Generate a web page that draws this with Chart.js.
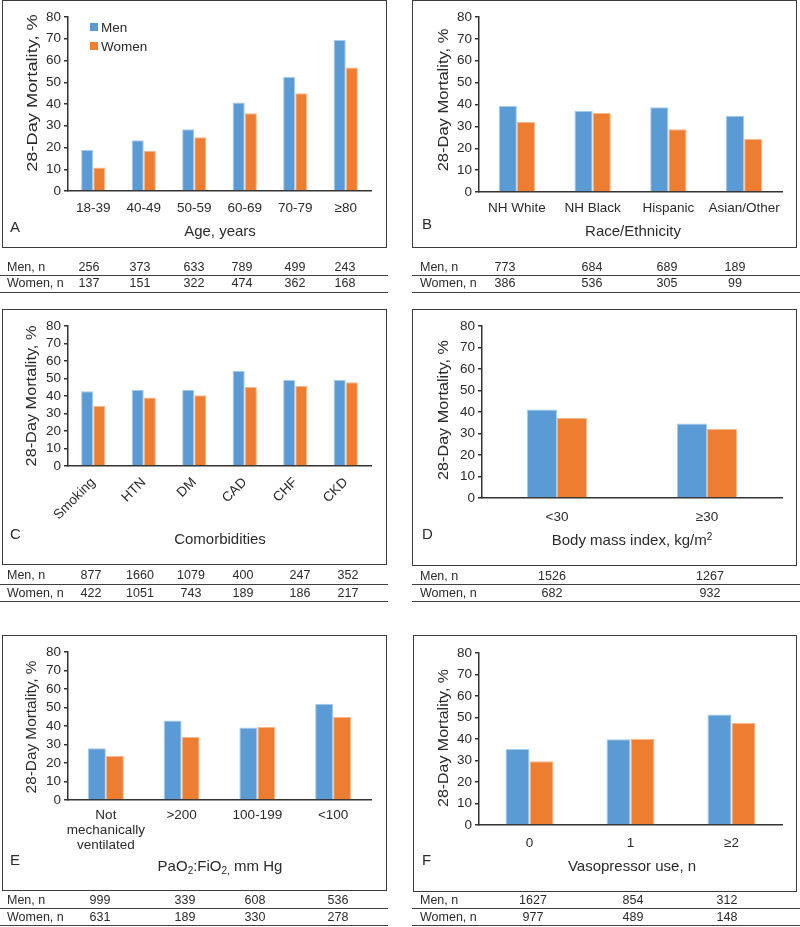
<!DOCTYPE html>
<html>
<head>
<meta charset="utf-8">
<title>28-Day Mortality by Sex</title>
<script src="https://cdn.jsdelivr.net/npm/chart.js@4.4.1/dist/chart.umd.min.js"></script>
<style>
  body { margin: 0; background: #fff; font-family: "Liberation Sans", Arial, sans-serif; color: #2b2b2b; }
  #page { position: relative; width: 800px; height: 927px; overflow: hidden; }
  .box { position: absolute; border: 1.5px solid #3c3c3c; box-sizing: border-box; }
  canvas.plot { position: absolute; }
  .txt { position: absolute; white-space: nowrap; transform: translate(-50%, -50%); }
  .ttl { font-size: 15px; }
  .letter { position: absolute; font-size: 15px; transform: translateY(-50%); }
  .rule { position: absolute; height: 0; border-top: 1.5px solid #404040; }
  .cell { font-size: 12.5px; }
  .rowlab { position: absolute; font-size: 12.5px; white-space: nowrap; transform: translateY(-50%); }
  .swatch { position: absolute; width: 8px; height: 8px; }
  .legtxt { position: absolute; font-size: 13.5px; transform: translateY(-50%); }
  sub { font-size: 10px; vertical-align: -3px; line-height: 0; }
  sup { font-size: 10px; vertical-align: 5px; line-height: 0; }
</style>
</head>
<body>
<div id="page"></div>
<script>
/* ---------- data ---------- */
const yTicks = [0, 10, 20, 30, 40, 50, 60, 70, 80];

const ageLabels  = ['18-39', '40-49', '50-59', '60-69', '70-79', '≥80'];
const ageMen     = [18.9, 23.3, 28.4, 40.7, 52.5, 69.4];
const ageWomen   = [10.8, 18.4, 24.7, 35.8, 44.9, 56.8];
const ageMenN    = [256, 373, 633, 789, 499, 243];
const ageWomenN  = [137, 151, 322, 474, 362, 168];

const raceLabels = ['NH White', 'NH Black', 'Hispanic', 'Asian/Other'];
const raceMen    = [39.3, 37.2, 38.8, 34.9];
const raceWomen  = [32.0, 36.1, 28.7, 24.2];
const raceMenN   = [773, 684, 689, 189];
const raceWomenN = [386, 536, 305, 99];

const comLabels  = ['Smoking', 'HTN', 'DM', 'CAD', 'CHF', 'CKD'];
const comMen     = [42.7, 43.6, 43.6, 54.3, 49.1, 49.3];
const comWomen   = [34.5, 39.2, 40.4, 45.1, 45.9, 47.8];
const comMenN    = [877, 1660, 1079, 400, 247, 352];
const comWomenN  = [422, 1051, 743, 189, 186, 217];

const bmiLabels  = ['<30', '≥30'];
const bmiMen     = [41.2, 34.7];
const bmiWomen   = [37.2, 32.1];
const bmiMenN    = [1526, 1267];
const bmiWomenN  = [682, 932];

const pfLabels   = [['Not', 'mechanically', 'ventilated'], '>200', '100-199', '<100'];
const pfMen      = [28.0, 43.0, 39.2, 52.0];
const pfWomen    = [23.8, 34.1, 39.5, 44.8];
const pfMenN     = [999, 339, 608, 536];
const pfWomenN   = [631, 189, 330, 278];

const vasoLabels = ['0', '1', '≥2'];
const vasoMen    = [35.4, 39.9, 51.4];
const vasoWomen  = [29.6, 40.1, 47.5];
const vasoMenN   = [1627, 854, 312];
const vasoWomenN = [977, 489, 148];

/* ---------- style ---------- */
const MEN_COLOR   = '#5B9BD5';
const MEN_EDGE    = '#A9CBEA';
const WOMEN_COLOR = '#ED7D31';
const WOMEN_EDGE  = '#F5B98F';
const AXIS_COLOR  = '#333333';
const TEXT_COLOR  = '#2b2b2b';
const FONT        = '"Liberation Sans", Arial, sans-serif';

/* ---------- panels (layout only) ---------- */
const panels = [
  { letter: 'A', labels: ageLabels, men: ageMen, women: ageWomen, nMen: ageMenN, nWomen: ageWomenN,
    box: { x: 2, y: 0, w: 385, h: 248 }, area: { l: 68, t: 17, r: 371, b: 191 },
    cat: 0.48, xPad: 10, rot: 0,
    xTitle: 'Age, years', xTitleAt: [220, 230], yTitleAt: [31, 92.5, 158], letterAt: [10, 226],
    table: { x0: 0, x1: 388, labX: 7, menY: 267, womenY: 283, rule1: 275, rule2: 292,
             cols: [89, 140, 194, 242, 295, 345] }, legend: true },
  { letter: 'B', labels: raceLabels, men: raceMen, women: raceWomen, nMen: raceMenN, nWomen: raceWomenN,
    box: { x: 412, y: 0, w: 385, h: 248 }, area: { l: 479, t: 17, r: 782, b: 192 },
    cat: 0.48, xPad: 9, rot: 0,
    xTitle: 'Race/Ethnicity', xTitleAt: [633, 230], yTitleAt: [442, 100, 143], letterAt: [422, 223],
    table: { x0: 412, x1: 800, labX: 420, menY: 267, womenY: 283, rule1: 275, rule2: 292,
             cols: [505, 592, 667, 735] } },
  { letter: 'C', labels: comLabels, men: comMen, women: comWomen, nMen: comMenN, nWomen: comWomenN,
    box: { x: 2, y: 309, w: 385, h: 256 }, area: { l: 68, t: 326, r: 371, b: 466 },
    cat: 0.48, xPad: 9, rot: 45,
    xTitle: 'Comorbidities', xTitleAt: [220, 538], yTitleAt: [29.5, 395.5, 141], letterAt: [10, 533],
    table: { x0: 0, x1: 388, labX: 7, menY: 575, womenY: 593, rule1: 584, rule2: 601,
             cols: [91, 140, 191, 243, 300, 348] } },
  { letter: 'D', labels: bmiLabels, men: bmiMen, women: bmiWomen, nMen: bmiMenN, nWomen: bmiWomenN,
    box: { x: 412, y: 309, w: 385, h: 257 }, area: { l: 482, t: 326, r: 782, b: 498 },
    cat: 0.4, xPad: 12, rot: 0,
    xTitle: 'Body mass index, kg/m<sup>2</sup>', xTitleAt: [632, 539], yTitleAt: [442, 410, 140], letterAt: [422, 533],
    table: { x0: 412, x1: 800, labX: 420, menY: 576, womenY: 593, rule1: 584, rule2: 601,
             cols: [552, 710] } },
  { letter: 'E', labels: pfLabels, men: pfMen, women: pfWomen, nMen: pfMenN, nWomen: pfWomenN,
    box: { x: 2, y: 635, w: 385, h: 256 }, area: { l: 68, t: 652, r: 371, b: 800 },
    cat: 0.475, xPad: 8, rot: 0,
    xTitle: 'PaO<sub>2</sub>:FiO<sub>2,</sub> mm Hg', xTitleAt: [220, 865], yTitleAt: [29.5, 727, 133], letterAt: [10, 859],
    table: { x0: 0, x1: 388, labX: 7, menY: 900, womenY: 917, rule1: 908, rule2: 925,
             cols: [100, 185, 255, 338] } },
  { letter: 'F', labels: vasoLabels, men: vasoMen, women: vasoWomen, nMen: vasoMenN, nWomen: vasoWomenN,
    box: { x: 413, y: 635, w: 384, h: 257 }, area: { l: 479, t: 653, r: 782, b: 825 },
    cat: 0.475, xPad: 11, rot: 0,
    xTitle: 'Vasopressor use, n', xTitleAt: [632, 865], yTitleAt: [442, 738, 138], letterAt: [422, 859],
    table: { x0: 412, x1: 800, labX: 420, menY: 900, womenY: 917, rule1: 908, rule2: 925,
             cols: [533, 633, 727] } }
];

const page = document.getElementById('page');

function addEl(cls, html, css) {
  const el = document.createElement('div');
  el.className = cls;
  el.innerHTML = html;
  Object.assign(el.style, css);
  page.appendChild(el);
  return el;
}

function px(v) { return v + 'px'; }

function buildPanel(p) {
  addEl('box', '', { left: px(p.box.x), top: px(p.box.y), width: px(p.box.w), height: px(p.box.h) });

  const cv = document.createElement('canvas');
  cv.className = 'plot';
  cv.width = p.box.w;
  cv.height = p.box.h;
  Object.assign(cv.style, { left: px(p.box.x), top: px(p.box.y), width: px(p.box.w), height: px(p.box.h) });
  page.appendChild(cv);

  new Chart(cv.getContext('2d'), {
    type: 'bar',
    data: {
      labels: p.labels,
      datasets: [
        { label: 'Men', data: p.men, backgroundColor: MEN_COLOR, borderColor: MEN_EDGE,
          borderWidth: { top: 1, left: 1, right: 1, bottom: 0 },
          categoryPercentage: p.cat, barPercentage: 1 },
        { label: 'Women', data: p.women, backgroundColor: WOMEN_COLOR, borderColor: WOMEN_EDGE,
          borderWidth: { top: 1, left: 1, right: 1, bottom: 0 },
          categoryPercentage: p.cat, barPercentage: 1 }
      ]
    },
    options: {
      responsive: false,
      animation: false,
      layout: { padding: { top: p.area.t - p.box.y, right: p.box.x + p.box.w - p.area.r, bottom: 0, left: 0 } },
      plugins: { legend: { display: false }, tooltip: { enabled: false } },
      scales: {
        x: {
          grid: { display: false, drawTicks: false },
          border: { display: true, color: AXIS_COLOR, width: 1.5 },
          ticks: {
            color: TEXT_COLOR, font: { family: FONT, size: 13.5, lineHeight: 1.1 },
            padding: p.xPad, autoSkip: false, maxRotation: p.rot, minRotation: p.rot
          },
          afterFit: s => { s.height = p.box.y + p.box.h - p.area.b; }
        },
        y: {
          min: 0, max: 80,
          afterBuildTicks: s => { s.ticks = yTicks.map(v => ({ value: v })); },
          grid: { drawOnChartArea: false, drawTicks: true, tickLength: 4, color: AXIS_COLOR, lineWidth: 1.5 },
          border: { display: true, color: AXIS_COLOR, width: 1.5 },
          ticks: { color: TEXT_COLOR, font: { family: FONT, size: 13.5 }, padding: 3, autoSkip: false },
          afterFit: s => { s.width = p.area.l - p.box.x; }
        }
      }
    }
  });

  // axis titles and panel letter
  addEl('txt ttl', p.xTitle, { left: px(p.xTitleAt[0]), top: px(p.xTitleAt[1]) });
  const yt = addEl('txt ttl', '28-Day Mortality, %', { left: px(p.yTitleAt[0]), top: px(p.yTitleAt[1]) });
  const k = p.yTitleAt[2] / yt.offsetWidth;
  yt.style.transform = 'translate(-50%, -50%) rotate(-90deg) scaleX(' + k.toFixed(3) + ')';
  addEl('letter', p.letter, { left: px(p.letterAt[0]), top: px(p.letterAt[1]) });

  // n table
  const t = p.table;
  addEl('rowlab', 'Men, n', { left: px(t.labX), top: px(t.menY) });
  addEl('rowlab', 'Women, n', { left: px(t.labX), top: px(t.womenY) });
  t.cols.forEach((cx, i) => {
    addEl('txt cell', String(p.nMen[i]), { left: px(cx), top: px(t.menY) });
    addEl('txt cell', String(p.nWomen[i]), { left: px(cx), top: px(t.womenY) });
  });
  addEl('rule', '', { left: px(t.x0), top: px(t.rule1), width: px(t.x1 - t.x0) });
  addEl('rule', '', { left: px(t.x0), top: px(t.rule2), width: px(t.x1 - t.x0) });

  if (p.legend) {
    addEl('swatch', '', { left: px(90), top: px(23), background: MEN_COLOR });
    addEl('legtxt', 'Men', { left: px(101), top: px(27) });
    addEl('swatch', '', { left: px(90), top: px(42), background: WOMEN_COLOR });
    addEl('legtxt', 'Women', { left: px(101), top: px(46) });
  }
}

panels.forEach(buildPanel);
</script>
</body>
</html>
